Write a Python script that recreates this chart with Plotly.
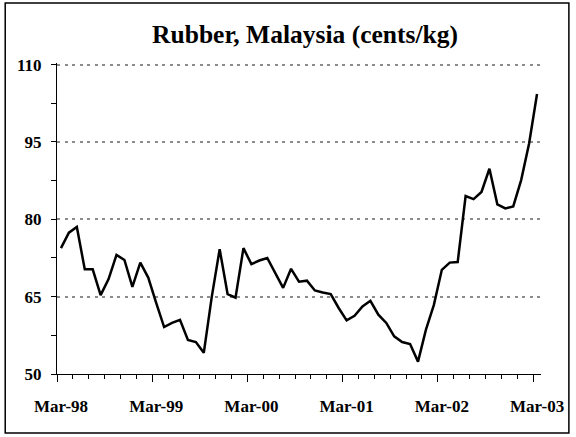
import plotly.graph_objects as go
import pandas as pd

# Monthly prices, Mar-1998 .. Mar-2003 (cents/kg)
months = [p.strftime("%b-%y") for p in pd.period_range("1998-03", "2003-03", freq="M")]
values = [74.4, 77.4, 78.5, 70.3, 70.3, 65.3, 68.4, 73.1, 72.1, 66.9,
          71.6, 68.7, 63.8, 59.1, 59.9, 60.5, 56.6, 56.2, 54.1, 64.9,
          74.2, 65.5, 64.8, 74.4, 71.3, 72.0, 72.5, 69.6, 66.7, 70.4,
          67.9, 68.1, 66.2, 65.8, 65.5, 62.8, 60.4, 61.3, 63.1, 64.2,
          61.5, 59.9, 57.3, 56.2, 55.8, 52.4, 58.6, 63.4, 70.2, 71.6,
          71.7, 84.5, 83.9, 85.3, 89.8, 82.9, 82.1, 82.5, 87.6, 94.7,
          104.3]
x_labels = ["Mar-98", "Mar-99", "Mar-00", "Mar-01", "Mar-02", "Mar-03"]
y_ticks = [50, 65, 80, 95, 110]

W, H = 576, 437
L, R, T, B = 57, 33, 62.5, 63
pw, ph = W - L - R, H - T - B

def px_x(p):
    return (p - L) / pw

def px_y(p):
    return (H - B - p) / ph

x = list(range(len(values)))
label_pos = [i - 0.5 for i in range(0, len(values), 12)]

font_family = "Liberation Serif, Times New Roman, serif"

fig = go.Figure()
fig.add_trace(go.Scatter(x=x, y=values, mode="lines",
                         line=dict(color="black", width=2.5),
                         text=months, hoverinfo="text+y"))

fig.update_layout(
    width=W, height=H,
    margin=dict(l=L, r=R, t=T, b=B),
    paper_bgcolor="white", plot_bgcolor="white",
    showlegend=False,
    title=dict(text="Rubber, Malaysia (cents/kg)",
               font=dict(family=font_family, size=25.5, color="black", weight="bold"),
               x=305 / W, xanchor="center", xref="container",
               y=1 - 34 / H, yanchor="middle", yref="container"),
    font=dict(family=font_family, size=17, color="black", weight="bold"),
)

fig.update_xaxes(
    range=[-0.5, len(values) - 0.5],
    tickmode="array", tickvals=label_pos, ticktext=x_labels,
    ticks="outside", ticklen=7, tickwidth=1, tickcolor="black",
    ticklabelshift=4, ticklabelstandoff=10,
    minor=dict(tick0=-0.5, dtick=2, ticks="outside", ticklen=4,
               tickwidth=1, tickcolor="black", showgrid=False),
    showline=True, linecolor="black", linewidth=1,
    showgrid=False, zeroline=False,
    tickfont=dict(family=font_family, size=17, color="black", weight="bold"),
)

fig.update_yaxes(
    range=[50, 110.3],
    tickmode="array", tickvals=y_ticks,
    ticks="outside", ticklen=5, tickwidth=1, tickcolor="black",
    minor=dict(tick0=50, dtick=7.5, ticks="outside", ticklen=5,
               tickwidth=1, tickcolor="black", showgrid=False),
    showline=True, linecolor="black", linewidth=1,
    showgrid=True, gridcolor="#8c8c8c", gridwidth=1.5, griddash="3px,4.5px",
    zeroline=False,
    tickfont=dict(family=font_family, size=17, color="black", weight="bold"),
    ticklabelstandoff=6,
)

# outer frame around the whole chart
fig.add_shape(type="rect", xref="paper", yref="paper",
              x0=px_x(5), x1=px_x(571), y0=px_y(433), y1=px_y(2.5),
              line=dict(color="black", width=1.5), fillcolor="rgba(0,0,0,0)",
              layer="above")

fig.write_html("out.html",
               config={"displayModeBar": False},
               post_script="document.body.style.margin='0';"
                           "document.body.style.overflow='hidden';")
